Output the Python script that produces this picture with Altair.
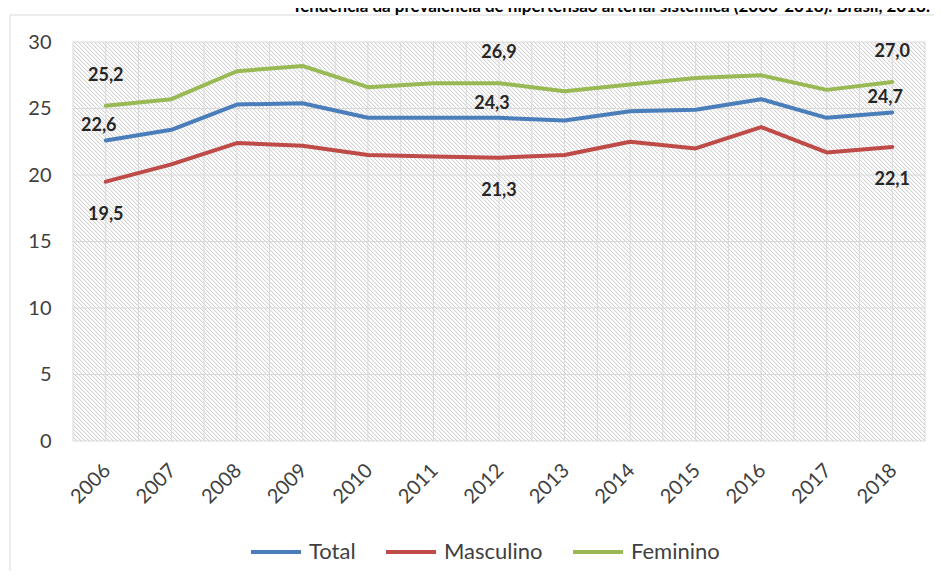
import altair as alt
import pandas as pd

years = [2006, 2007, 2008, 2009, 2010, 2011, 2012, 2013, 2014, 2015, 2016, 2017, 2018]
total = [22.6, 23.4, 25.3, 25.4, 24.3, 24.3, 24.3, 24.1, 24.8, 24.9, 25.7, 24.3, 24.7]
masculino = [19.5, 20.8, 22.4, 22.2, 21.5, 21.4, 21.3, 21.5, 22.5, 22.0, 23.6, 21.7, 22.1]
feminino = [25.2, 25.7, 27.8, 28.2, 26.6, 26.9, 26.9, 26.3, 26.8, 27.3, 27.5, 26.4, 27.0]
series_names = ["Total", "Masculino", "Feminino"]
series_colors = ["#4a7ebb", "#be4b48", "#98b954"]
labeled_years = [2006, 2012, 2018]
y_ticks = [0, 5, 10, 15, 20, 25, 30]
x_grid = sorted([y - 0.5 for y in years] + years + [years[-1] + 0.5])
title_text = "Tendência da prevalência de hipertensão arterial sistêmica (2006-2018). Brasil, 2018."

W, H = 852, 399

rows = []
for name, vals in zip(series_names, [total, masculino, feminino]):
    for yr, v in zip(years, vals):
        rows.append({"year": yr, "value": v, "series": name,
                     "label": f"{v:.1f}".replace(".", ",")})
df = pd.DataFrame(rows)

# diagonal hatch fill (style only) built as a hard-stop linear gradient
span = W + H
stops = []
def add(o, c):
    o = min(max(o, 0.0), float(span))
    stops.append({"offset": o / span, "color": c})
k = 0
while k * 4 - 0.5 <= span:
    c = k * 4
    add(c - 0.5, "#d3d3d3"); add(c + 0.5, "#d3d3d3")
    add(c + 0.5, "#f1f1f1"); add(c + 1.5, "#f1f1f1")
    add(c + 1.5, "#ffffff"); add(c + 3.5, "#ffffff")
    k += 1
lam = span / (W + H * H / W)
hatch = {"gradient": "linear", "x1": 0, "y1": 1, "x2": lam, "y2": 1 - lam * H / W,
         "stops": stops}

xscale = alt.Scale(domain=[years[0] - 0.5, years[-1] + 0.5], nice=False, zero=False)
yscale = alt.Scale(domain=[0, 30], nice=False)

x_axis = alt.Axis(
    values=years, format="d", labelAngle=-45, labelOverlap=False, labelFlush=False,
    ticks=False, domain=False, grid=False,
    labelFontSize=20, labelColor="#404040", labelPadding=19, labelOffset=-6, title=None,
)
y_axis = alt.Axis(
    values=y_ticks, grid=False, ticks=False, domain=False,
    labelFontSize=20, labelColor="#404040", labelPadding=22, title=None,
)
color_enc = alt.Color(
    "series:N",
    scale=alt.Scale(domain=series_names, range=series_colors),
    legend=alt.Legend(
        orient="none", legendX=176, legendY=483, direction="horizontal", columns=3,
        symbolType="stroke", symbolSize=2500, symbolStrokeWidth=4,
        labelFontSize=22, labelColor="#404040", columnPadding=22, labelOffset=6,
        title=None,
    ),
)

one = pd.DataFrame({"t": [title_text]})

frame = alt.Chart(one).mark_rect(filled=False, stroke="#d9d9d9", strokeWidth=1).encode(
    x=alt.value(-63), y=alt.value(-27), x2=alt.value(950), y2=alt.value(700)
)

bg = alt.Chart(one).mark_rect(fill=hatch).encode(
    x=alt.X(datum=years[0] - 0.5, type="quantitative", scale=xscale, axis=x_axis),
    x2=alt.X2(datum=years[-1] + 0.5),
    y=alt.Y(datum=0, type="quantitative", scale=yscale, axis=y_axis),
    y2=alt.Y2(datum=30),
)

vgrid = alt.Chart(pd.DataFrame({"g": x_grid})).mark_rule(color="#d9d9d9", strokeWidth=1).encode(
    x=alt.X("g:Q", scale=xscale, axis=x_axis)
)
hgrid = alt.Chart(pd.DataFrame({"v": y_ticks})).mark_rule(color="#d9d9d9", strokeWidth=1).encode(
    y=alt.Y("v:Q", scale=yscale, axis=y_axis)
)

base = alt.Chart(df)
lines = base.mark_line(strokeWidth=4, strokeCap="round", strokeJoin="round").encode(
    x=alt.X("year:Q", scale=xscale, axis=x_axis),
    y=alt.Y("value:Q", scale=yscale, axis=y_axis),
    color=color_enc,
)

def labels(name, dx, dy):
    return base.transform_filter(
        alt.FieldEqualPredicate(field="series", equal=name)
    ).transform_filter(
        alt.FieldOneOfPredicate(field="year", oneOf=labeled_years)
    ).mark_text(fontSize=18, fontWeight="bold", color="#262626", dx=dx, dy=dy).encode(
        x=alt.X("year:Q", scale=xscale, axis=x_axis),
        y=alt.Y("value:Q", scale=yscale, axis=y_axis),
        text="label:N",
    )

title = alt.Chart(one).mark_text(
    align="right", baseline="alphabetic", fontSize=17, fontWeight="bold", color="#000000"
).encode(x=alt.value(857), y=alt.value(-30), text="t:N")

chart = alt.layer(
    frame, bg, vgrid, hgrid, lines,
    labels("Feminino", 0, -30), labels("Total", -7, -14), labels("Masculino", 0, 33),
    title,
).properties(
    width=W, height=H, autosize="none",
    padding={"left": 65, "top": 34, "right": 9, "bottom": 130},
).configure(font="Lato").configure_view(stroke="transparent")

chart.save("out.html", embed_options={"renderer": "svg", "actions": False})
